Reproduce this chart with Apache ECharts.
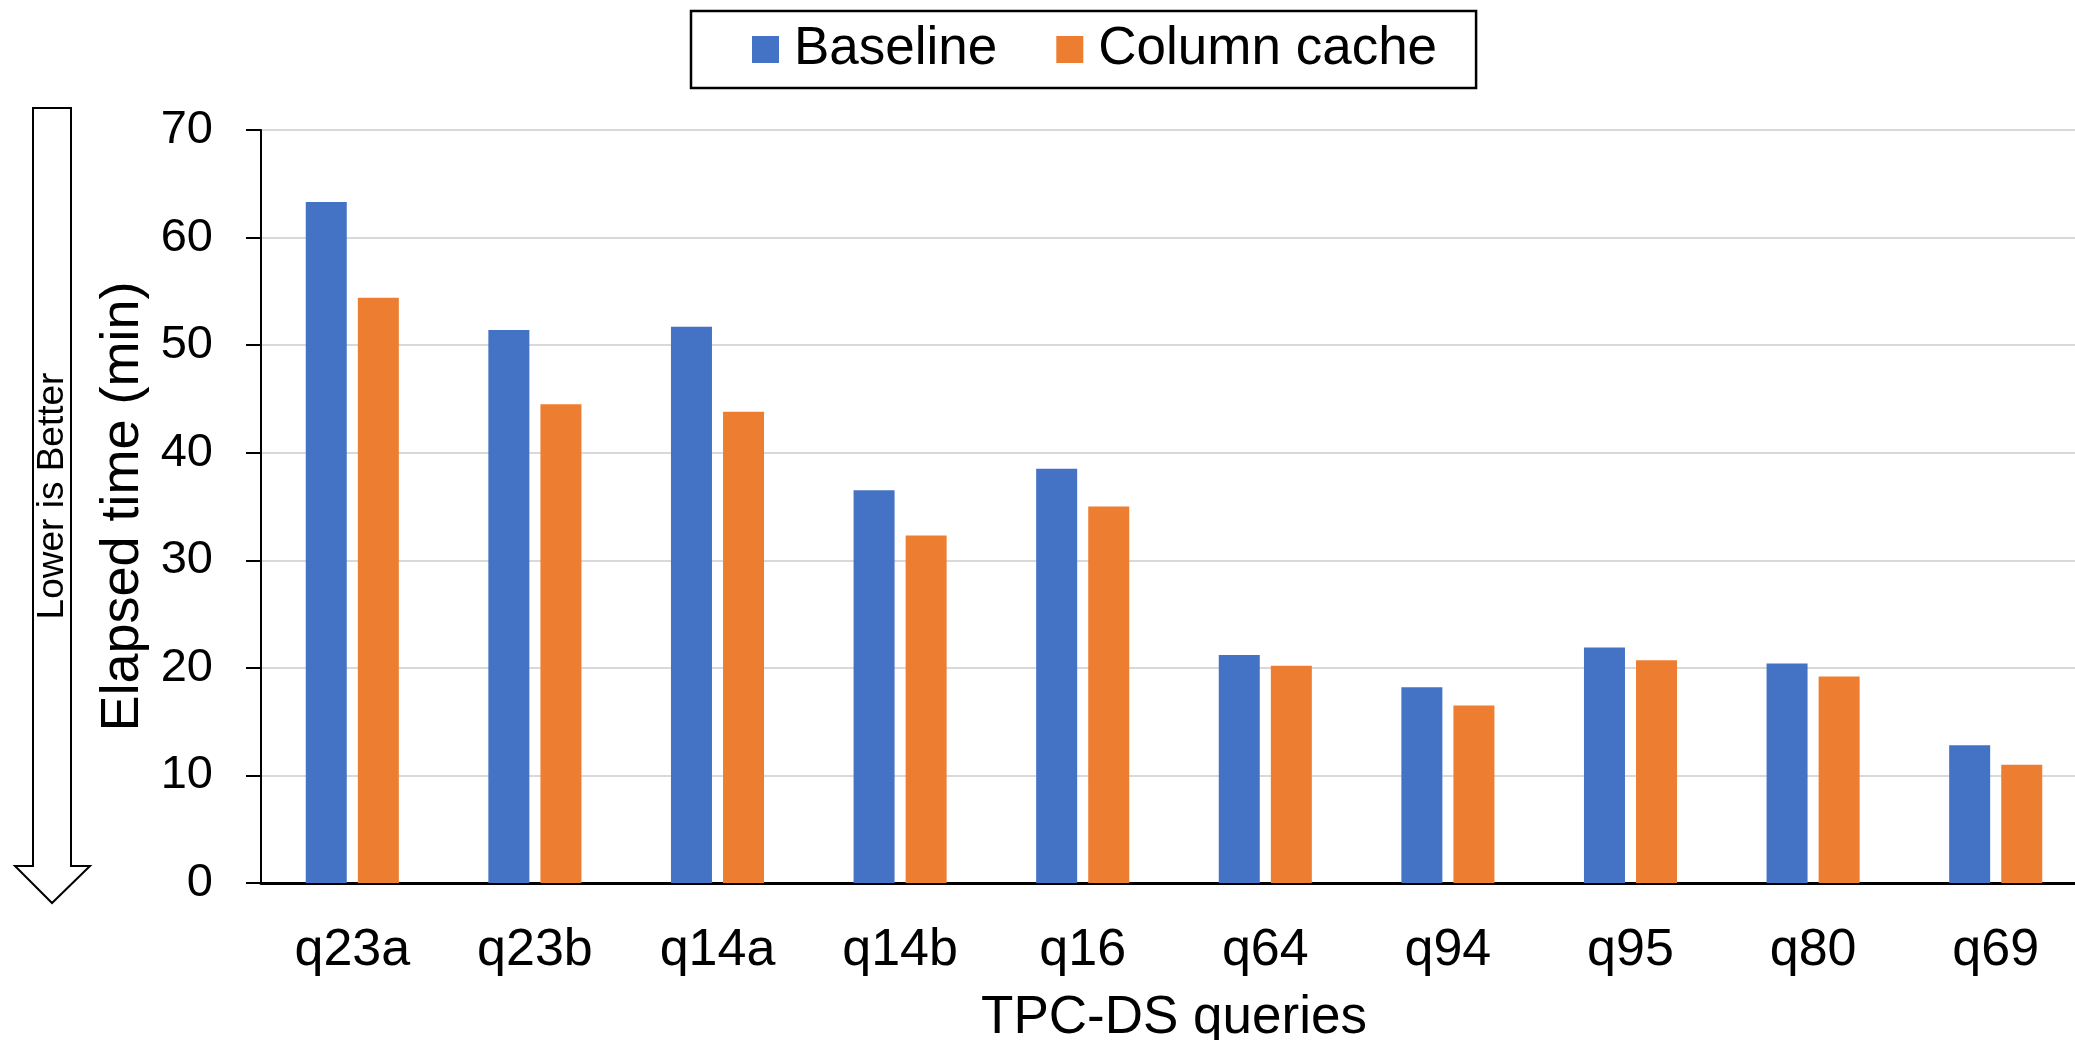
<!DOCTYPE html>
<html>
<head>
<meta charset="utf-8">
<title>TPC-DS elapsed time</title>
<script src="https://cdn.jsdelivr.net/npm/echarts@6/dist/echarts.min.js"></script>
<style>
  html, body { margin: 0; padding: 0; background: #fff; }
  #chart { width: 2075px; height: 1040px; }
</style>
</head>
<body>
<div id="chart"></div>
<script>
// 查询与耗时（分钟）
var queries = ['q23a', 'q23b', 'q14a', 'q14b', 'q16', 'q64', 'q94', 'q95', 'q80', 'q69'];
var baseline = [63.3, 51.4, 51.7, 36.5, 38.5, 21.2, 18.2, 21.9, 20.4, 12.8];
var columnCache = [54.4, 44.5, 43.8, 32.3, 35.0, 20.2, 16.5, 20.7, 19.2, 11.0];
var yTicks = { min: 0, max: 70, interval: 10 };

var font = '"Liberation Sans", Arial, sans-serif';
var myChart = echarts.init(document.getElementById('chart'));

var option = {
    animation: false,
    color: ['#4472C4', '#ED7D31'],
    textStyle: { fontFamily: font },
    legend: {
        left: 691,
        top: 11,
        padding: [12, 39, 12, 61],
        borderColor: '#000',
        borderWidth: 2.5,
        itemWidth: 27,
        itemHeight: 27,
        itemGap: 59,
        icon: 'rect',
        textStyle: { fontFamily: font, fontSize: 53, color: '#000', padding: [0, 0, 0, 10] },
        data: ['Baseline', 'Column cache']
    },
    grid: {
        left: 261,
        top: 130,
        width: 1826,
        bottom: 157,
        outerBoundsMode: 'none'
    },
    xAxis: {
        type: 'category',
        data: queries,
        name: 'TPC-DS queries',
        nameLocation: 'middle',
        nameGap: 109,
        nameTextStyle: { fontFamily: font, fontSize: 53, color: '#000' },
        axisLine: { lineStyle: { color: '#000', width: 3 } },
        axisTick: { length: 15, lineStyle: { color: '#000', width: 2 } },
        axisLabel: { fontFamily: font, fontSize: 52, color: '#000', margin: 42 }
    },
    yAxis: {
        type: 'value',
        min: yTicks.min,
        max: yTicks.max,
        interval: yTicks.interval,
        name: 'Elapsed time (min)',
        nameLocation: 'middle',
        nameGap: 110,
        nameTextStyle: { fontFamily: font, fontSize: 54, color: '#000' },
        axisLine: { show: true, lineStyle: { color: '#000', width: 2 } },
        axisTick: { show: true, length: 15, lineStyle: { color: '#000', width: 2 } },
        axisLabel: { fontFamily: font, fontSize: 47, color: '#000', margin: 48 },
        splitLine: { lineStyle: { color: '#d9d9d9', width: 2 } }
    },
    series: [
        {
            name: 'Baseline',
            type: 'bar',
            data: baseline,
            barWidth: 41,
            barGap: '27%'
        },
        {
            name: 'Column cache',
            type: 'bar',
            data: columnCache,
            barWidth: 41,
            barGap: '27%'
        }
    ],
    // 左侧“越低越好”箭头
    graphic: [
        {
            type: 'polygon',
            shape: {
                points: [[33, 108], [71, 108], [71, 866], [90, 866], [52, 903], [15, 866], [33, 866]]
            },
            style: { fill: '#fff', stroke: '#000', lineWidth: 2 }
        },
        {
            type: 'text',
            x: 53,
            y: 496,
            rotation: Math.PI / 2,
            style: {
                text: 'Lower is Better',
                font: '37px ' + font,
                fill: '#000',
                align: 'center',
                verticalAlign: 'middle'
            }
        }
    ]
};
myChart.setOption(option);
</script>
</body>
</html>
